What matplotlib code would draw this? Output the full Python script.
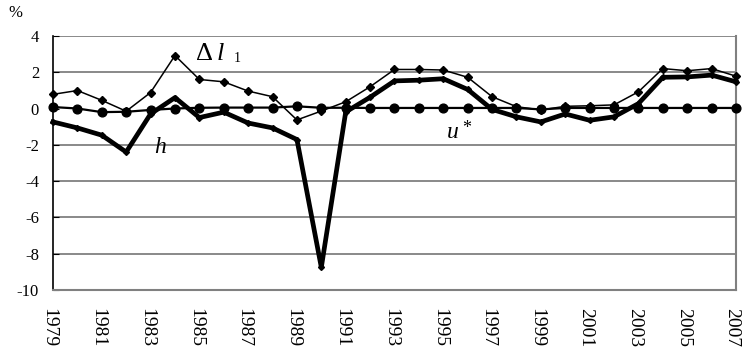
import matplotlib
matplotlib.use("Agg")
import matplotlib.pyplot as plt
import matplotlib.transforms as mtransforms

years = list(range(1979, 2008))
dl1 = [0.78, 0.99, 0.45, -0.15, 0.88, 2.92, 1.6, 1.47, 0.96, 0.65, -0.63, -0.14, 0.37, 1.2,
       2.15, 2.15, 2.12, 1.72, 0.65, 0.1, -0.08, 0.12, 0.15, 0.2, 0.92, 2.2, 2.08, 2.2, 1.78]
h = [-0.74, -1.07, -1.47, -2.4, -0.3, 0.6, -0.5, -0.2, -0.8, -1.07, -1.71, -8.75, -0.19, 0.62,
     1.52, 1.56, 1.64, 1.05, -0.05, -0.46, -0.74, -0.3, -0.65, -0.46, 0.27, 1.72, 1.74, 1.84, 1.47]
ustar = [0.08, 0.0, -0.2, -0.18, -0.08, 0.0, 0.04, 0.05, 0.05, 0.05, 0.12, 0.04, 0.04, 0.03,
         0.03, 0.03, 0.03, 0.03, 0.03, 0.03, -0.05, 0.03, 0.03, 0.03, 0.03, 0.03, 0.03, 0.03, 0.03]
yticks = [4, 2, 0, -2, -4, -6, -8, -10]
xticks = list(range(1979, 2008, 2))

plt.rcParams['font.family'] = ['Liberation Serif', 'DejaVu Serif']
plt.rcParams['axes.unicode_minus'] = False

fig = plt.figure(figsize=(7.43, 3.52), dpi=100)
ax = fig.add_axes([53 / 743, 1 - 290 / 352, (736 - 53) / 743, (290 - 35.9) / 352])

ax.set_xlim(1979, 2007)
ax.set_ylim(-10, 4)
ax.set_yticks(yticks)
ax.set_xticks(xticks)
ax.set_xticklabels([str(y) for y in xticks], rotation=270, fontsize=14)
ax.tick_params(axis='x', length=0, pad=13)
ax.tick_params(axis='y', length=4, direction='in', labelsize=12, pad=10)
for lab in ax.get_yticklabels():
    lab.set_horizontalalignment('right')
shift = mtransforms.ScaledTranslation(-4 / 100, 0, fig.dpi_scale_trans)
for lab in ax.get_xticklabels():
    lab.set_transform(lab.get_transform() + shift)

for v in yticks:
    if v != 0:
        ax.axhline(v, color='#808080', lw=1.3, zorder=1)

ax.spines['left'].set_color('black')
ax.spines['left'].set_linewidth(1.2)
for s in ['bottom', 'right']:
    ax.spines[s].set_color('#808080')
    ax.spines[s].set_linewidth(1.5)
ax.spines['top'].set_visible(False)

ax.plot(years, ustar, color='black', lw=1.6, marker='o', markersize=6.3, zorder=3, clip_on=False)
ax.plot(years, dl1, color='black', lw=1.1, marker='D', markersize=4.5, zorder=4, clip_on=False)
ax.plot(years, h, color='black', lw=3.4, marker='D', markersize=3, zorder=5, clip_on=False)

ax.text(1984.85, 3.0, '\u0394', fontsize=19, ha='left', va='center')
ax.text(1985.7, 3.0, 'l', fontsize=19, style='italic', ha='left', va='center')
ax.text(1986.4, 2.75, '1', fontsize=10, ha='left', va='center')
ax.text(1983.4, -2.15, 'h', fontsize=17, style='italic', ha='center', va='center')
ax.text(1995.4, -1.3, 'u', fontsize=17, style='italic', ha='center', va='center')
ax.text(1995.95, -1.1, '*', fontsize=13, ha='center', va='center')

fig.text(15 / 743, 1 - 13 / 352, '%', fontsize=12, ha='center', va='center')

fig.savefig('out.png', dpi=100)
